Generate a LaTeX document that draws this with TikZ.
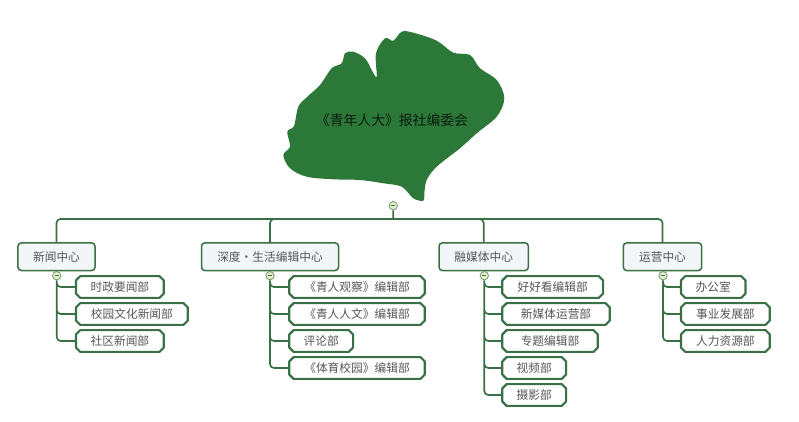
\documentclass[tikz,border=0pt]{standalone}
\usepackage{fontspec}
\setmainfont{Noto Sans CJK SC}
\definecolor{leafgreen}{HTML}{2C7838}
\definecolor{linegreen}{HTML}{3A7045}
\definecolor{boxgray}{HTML}{F2F6F8}
\definecolor{togglefill}{HTML}{E6F0C4}
\definecolor{textgray}{HTML}{555555}
\begin{document}
\begin{tikzpicture}[x=0.3mm,y=-0.3mm]
\tikzstyle{link}=[draw=linegreen, line width=0.5mm, rounded corners=1.2mm]
\tikzstyle{center}=[draw=linegreen, line width=0.45mm, fill=boxgray, rounded corners=1mm, minimum height=8.3mm, inner sep=0pt, text=textgray, font=\fontsize{10}{12}\selectfont]
\tikzstyle{dept}=[minimum height=6.4mm, inner sep=0pt, anchor=west, text=textgray, font=\fontsize{10}{12}\selectfont,
append after command={\pgfextra{\draw[linegreen, line width=0.65mm, line join=round]
([xshift=1.3mm]\tikzlastnode.north west) -- ([xshift=-1.3mm]\tikzlastnode.north east)
-- ([yshift=-1.3mm]\tikzlastnode.north east) -- ([yshift=1.3mm]\tikzlastnode.south east)
-- ([xshift=-1.3mm]\tikzlastnode.south east) -- ([xshift=1.3mm]\tikzlastnode.south west)
-- ([yshift=1.3mm]\tikzlastnode.south west) -- ([yshift=-1.3mm]\tikzlastnode.north west) -- cycle;}}]
\tikzstyle{toggle}=[draw=linegreen!70, line width=0.25mm, fill=togglefill, shape=circle, minimum size=2.5mm, inner sep=0pt, path picture={\draw[linegreen, line width=0.2mm] (path picture bounding box.west) ++(0.6mm,0) -- ++(1.3mm,0);}]
\useasboundingbox (0,0) rectangle (799,422);
\fill[leafgreen] plot[smooth cycle, tension=0.55] coordinates {
(376.7,76.7) (376,53.3) (385,38.3) (393.3,40.7) (401.7,31.7) (413.3,32.7) (436.7,40.7)
(453.3,52.7) (470,55) (480,68.3) (496.7,80) (504.3,98.3) (496.7,116.7) (476.7,133.3)
(460,148.3) (436.7,166.7) (426.7,180) (424.3,193.3) (423.3,200.7) (413.3,198.3) (401.7,186.7)
(383.3,183.3) (360,180) (333.3,179.3) (306.7,176.7) (290,168.3) (283.3,155) (290,146.7)
(287.3,131.7) (294,126) (298.3,106.7) (306.7,97.3) (320,85) (331.7,68.3) (341.7,63.3)
(345,53.3) (353.3,51.7) (365,58.3) (371.7,70)};
\node at (392,120.5) [text=black!75!leafgreen, font=\fontsize{11.8}{14}\selectfont] (root) {《青年人大》报社编委会};
\coordinate (stem) at (393.3,201);
\coordinate (bus) at (393.3,219);
\node at (56.5,256.7) [center, minimum width=23.1mm] (c1) {新闻中心};
\node at (270,256.7) [center, minimum width=41.1mm] (c2) {深度·生活编辑中心};
\node at (483.7,256.7) [center, minimum width=26.8mm] (c3) {融媒体中心};
\node at (662.5,256.7) [center, minimum width=23.5mm] (c4) {运营中心};
\node at (76,287) [dept, minimum width=26.2mm] (n11) {时政要闻部};
\node at (76,314) [dept, minimum width=33.4mm] (n12) {校园文化新闻部};
\node at (76,341) [dept, minimum width=26.2mm] (n13) {社区新闻部};
\node at (289.3,287) [dept, minimum width=40.5mm] (n21) {《青人观察》编辑部};
\node at (289.3,314) [dept, minimum width=40.5mm] (n22) {《青人人文》编辑部};
\node at (289.3,341) [dept, minimum width=19mm] (n23) {评论部};
\node at (289.3,368) [dept, minimum width=40.5mm] (n24) {《体育校园》编辑部};
\node at (502.3,287) [dept, minimum width=30.1mm] (n31) {好好看编辑部};
\node at (502.3,314) [dept, minimum width=32.1mm] (n32) {新媒体运营部};
\node at (502.3,341) [dept, minimum width=28.5mm] (n33) {专题编辑部};
\node at (502.3,368) [dept, minimum width=19mm] (n34) {视频部};
\node at (502.3,395) [dept, minimum width=19mm] (n35) {摄影部};
\node at (681,287) [dept, minimum width=19.2mm] (n41) {办公室};
\node at (681,314) [dept, minimum width=26.5mm] (n42) {事业发展部};
\node at (681,341) [dept, minimum width=26.5mm] (n43) {人力资源部};
\node at (393.3,205.7) [toggle] (t0) {};
\node at (56.7,275.7) [toggle] (t1) {};
\node at (270,275.7) [toggle] (t2) {};
\node at (484.3,275.7) [toggle] (t3) {};
\node at (663,275.7) [toggle] (t4) {};
\draw[link]
(stem) -- (t0.north)
(t0.south) -- (bus)
(bus) -| (c1.north)
(bus) -| (c2.north)
(bus) -| (c3.north)
(bus) -| (c4.north);
\draw[link]
(t1.south) |- (n11.west)  (t1.south) |- (n12.west)  (t1.south) |- (n13.west)
(t2.south) |- (n21.west)  (t2.south) |- (n22.west)  (t2.south) |- (n23.west)  (t2.south) |- (n24.west)
(t3.south) |- (n31.west)  (t3.south) |- (n32.west)  (t3.south) |- (n33.west)  (t3.south) |- (n34.west)  (t3.south) |- (n35.west)
(t4.south) |- (n41.west)  (t4.south) |- (n42.west)  (t4.south) |- (n43.west);
\end{tikzpicture}
\end{document}
